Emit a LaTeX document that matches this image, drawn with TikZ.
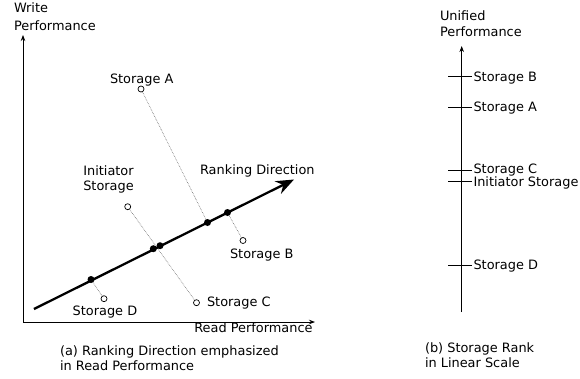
\documentclass[tikz,border=0pt]{standalone}
\usepackage{fontspec}
\setmainfont{DejaVu Sans}
\usetikzlibrary{arrows.meta}
\begin{document}
\begin{tikzpicture}[x=1pt,y=-1pt,
  every node/.style={inner sep=0pt,outer sep=0pt,font=\fontsize{12.9}{15}\selectfont},
  lbl/.style={anchor=base west},
  axis/.style={line width=0.8pt,-{Stealth[length=6pt,width=4.5pt]}},
  rank/.style={line width=2.3pt,-{Stealth[length=18pt,width=14pt,inset=6pt]}},
  proj/.style={black!60,line width=0.6pt,densely dotted},
  opendot/.style={circle,draw,line width=0.7pt,fill=white,minimum size=6pt},
  fulldot/.style={circle,fill=black,minimum size=7pt},
  tick/.style={line width=0.8pt}]
\useasboundingbox (0,0) rectangle (580,378);

% ---------- left panel axes ----------
\coordinate (o) at (23,322);
\coordinate (ytip) at (23,35);
\coordinate (xtip) at (315,322);
\draw[axis] (o) -- (ytip);
\draw[axis] (o) -- (xtip);
\node[lbl] (w1) at (14,12.7) {Write};
\node[lbl] (w2) at (14,30) {Performance};
\node[lbl] (rp) at (194.3,332.7) {Read Performance};

% ---------- projection points and storages ----------
\coordinate (pA) at (207.5,222.5);
\coordinate (pB) at (227.5,212.5);
\coordinate (pI) at (160,245.7);
\coordinate (pC) at (153.3,248.7);
\coordinate (pD) at (91,279.5);
\coordinate (sA) at (141,89);
\coordinate (sB) at (243,240.5);
\coordinate (sI) at (127.7,206.7);
\coordinate (sC) at (196.5,302.7);
\coordinate (sD) at (104,298.7);

\draw[proj] (sA) -- (pA);
\draw[proj] (sB) -- (pB);
\draw[proj] (sI) -- (sC);
\draw[proj] (sD) -- (pD);

% ranking direction
\coordinate (r0) at (34,309);
\coordinate (r1) at (294,179.5);
\draw[rank] (r0) -- (r1);

\node[fulldot] (dA) at (pA) {};
\node[fulldot] (dB) at (pB) {};
\node[fulldot] (dI) at (pI) {};
\node[fulldot] (dC) at (pC) {};
\node[fulldot] (dD) at (pD) {};
\node[opendot] (cA) at (sA) {};
\node[opendot] (cB) at (sB) {};
\node[opendot] (cI) at (sI) {};
\node[opendot] (cC) at (sC) {};
\node[opendot] (cD) at (sD) {};

\node[lbl] (lA) at (110,83) {Storage A};
\node[lbl] (lI1) at (83.3,175) {Initiator};
\node[lbl] (lI2) at (83.3,190.5) {Storage};
\node[lbl] (lR) at (200,174) {Ranking Direction};
\node[lbl] (lB) at (230,258.3) {Storage B};
\node[lbl] (lC) at (207,306.7) {Storage C};
\node[lbl] (lD) at (72.7,315) {Storage D};

\node[lbl] (ca1) at (60,355) {(a) Ranking Direction emphasized};
\node[lbl] (ca2) at (60,370) {in Read Performance};

% ---------- right panel ----------
\coordinate (u0) at (461.7,312);
\coordinate (u1) at (461.7,46);
\draw[axis] (u0) -- (u1);
\node[lbl] (u1a) at (440,20) {Unified};
\node[lbl] (u1b) at (440,36.5) {Performance};

\foreach \n/\yy/\txt/\by in {tB/76.7/Storage B/81,tA/107.3/Storage A/111.7,tC/170/Storage C/173.5,tI/181.7/Initiator Storage/186,tD/265/Storage D/269.3}{
  \coordinate (\n l) at (448,\yy);
  \coordinate (\n r) at (472,\yy);
  \draw[tick] (\n l) -- (\n r);
  \node[lbl] (\n t) at (473.5,\by) {\txt};
}

\node[lbl] (cb1) at (425,352.7) {(b) Storage Rank};
\node[lbl] (cb2) at (425,367.7) {in Linear Scale};
\end{tikzpicture}
\end{document}
